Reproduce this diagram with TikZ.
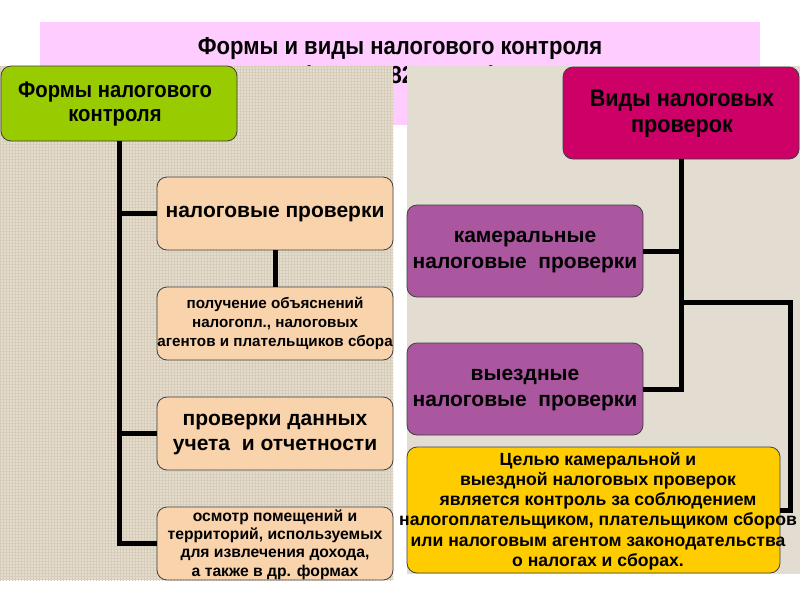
\documentclass[tikz,border=0pt]{standalone}
\usepackage{fontspec}
\setmainfont{Liberation Sans}
\newfontfamily\narrowf[FakeStretch=0.9]{Liberation Sans}
\usetikzlibrary{patterns.meta}
\definecolor{pinkbg}{HTML}{FFCCFF}
\definecolor{linenL}{HTML}{E4DCCC}
\definecolor{linenD}{HTML}{D6CCB9}
\definecolor{linenR}{HTML}{E3DCD0}
\definecolor{grn}{HTML}{99CC00}
\definecolor{mag}{HTML}{CC0066}
\definecolor{peach}{HTML}{F9D3AC}
\definecolor{purp}{HTML}{AA579F}
\definecolor{yel}{HTML}{FFCC00}
\begin{document}
\begin{tikzpicture}[x=1pt,y=-1pt,
  box/.style={draw=black!75, line width=0.8pt, rounded corners=10pt, inner sep=0pt, minimum width=236pt},
  txt/.style={align=center, inner sep=0pt, font=\bfseries},
  conn/.style={line width=5pt}]
\useasboundingbox (0,0) rectangle (800,600);
\fill[white] (0,0) rectangle (800,600);
% title banner
\fill[pinkbg] (40,22) rectangle (760,125);
\node[txt, font=\narrowf\bfseries\fontsize{24.5}{28}\selectfont] (title) at (400,49) {Формы и виды налогового контроля};
\node[txt, font=\narrowf\bfseries\fontsize{24.5}{28}\selectfont] (title2) at (400,77) {(статья 82 НК РФ)};
% panels
\fill[linenL] (0,66) rectangle (393,580);
\fill[pattern={Lines[angle=0,distance=3pt,line width=0.5pt]}, pattern color=linenD] (0,66) rectangle (393,580);
\fill[pattern={Lines[angle=90,distance=3pt,line width=0.5pt]}, pattern color=linenD] (0,66) rectangle (393,580);
\fill[linenR] (407,66) rectangle (800,574);
% left side
\node[box, fill=grn, minimum width=236pt, minimum height=75pt] (F) at (119,103.5) {};
\node[txt, font=\narrowf\bfseries\fontsize{22.5}{23.5}\selectfont] (Ft) at (115,104) {Формы налогового\\контроля};
\node[box, fill=peach, minimum height=73pt] (B1) at (275,213.5) {};
\node[txt, font=\bfseries\fontsize{21}{24}\selectfont] (B1t) at (275,214) {налоговые проверки};
\node[box, fill=peach, minimum height=73pt] (B2) at (275,323.5) {};
\node[txt, font=\bfseries\fontsize{15.2}{19}\selectfont] (B2t) at (B2.center) {получение объяснений\\налогопл., налоговых\\агентов и плательщиков сбора};
\node[box, fill=peach, minimum height=73pt] (B3) at (275,433.5) {};
\node[txt, font=\bfseries\fontsize{21}{25}\selectfont] (B3t) at (275,435) {проверки данных\\учета \ и отчетности};
\node[box, fill=peach, minimum height=73pt] (B4) at (275,543.5) {};
\node[txt, font=\bfseries\fontsize{15.7}{18.3}\selectfont] (B4t) at (275,544.5) {осмотр помещений и\\территорий, используемых\\для извлечения дохода,\\а также в др. формах};
\draw[conn] (F.south) |- (B4.west);
\draw[conn] (B1.west) -- (B1.west -| F.south);
\draw[conn] (B3.west) -- (B3.west -| F.south);
\draw[conn] (B1.south) -- (B2.north);
% right side
\node[box, fill=mag, minimum width=236pt, minimum height=92pt] (V) at (681,113) {};
\node[txt, font=\narrowf\bfseries\fontsize{24}{26}\selectfont] (Vt) at (682,114) {Виды налоговых\\проверок};
\node[box, fill=purp, minimum height=92pt] (K) at (525,251) {};
\node[txt, font=\bfseries\fontsize{21}{25.5}\selectfont] (Kt) at (525,252) {камеральные\\налоговые \ проверки};
\node[box, fill=purp, minimum height=92pt] (E) at (525,389) {};
\node[txt, font=\bfseries\fontsize{21}{25.5}\selectfont] (Et) at (525,390) {выездные\\налоговые \ проверки};
\node[box, fill=yel, minimum width=373pt, minimum height=126pt] (Y) at (593.5,510) {};
\node[txt, font=\bfseries\fontsize{17.6}{20.2}\selectfont] (Yt) at (598,511) {Целью камеральной и\\выездной налоговых проверок\\является контроль за соблюдением\\налогоплательщиком, плательщиком сборов\\или налоговым агентом законодательства\\о налогах и сборах.};
\coordinate (jr) at (790,302);
\draw[conn] (V.south) |- (E.east);
\draw[conn] (K.east) -- (K.east -| V.south);
\draw[conn] (jr -| V.south) -- (jr) |- (Y.east);
\end{tikzpicture}
\end{document}
